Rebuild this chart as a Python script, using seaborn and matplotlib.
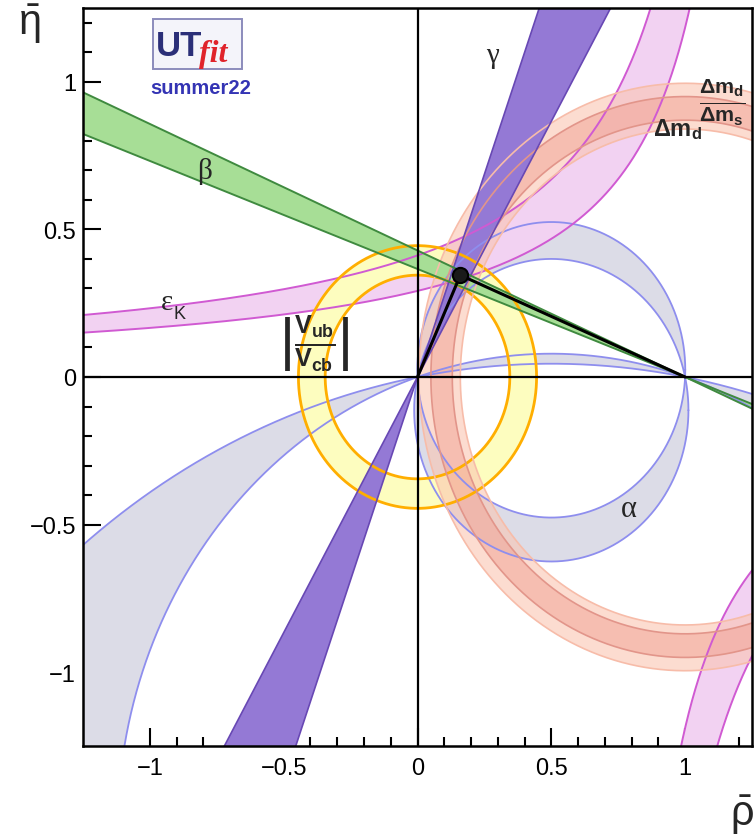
import numpy as np
import matplotlib
matplotlib.use("Agg")
import matplotlib.pyplot as plt
import seaborn as sns
import pandas as pd
from matplotlib.path import Path
from matplotlib.patches import PathPatch, Rectangle
from matplotlib.ticker import MultipleLocator

# ---- fit result and constraint bands (rho-bar, eta-bar plane) ----
apex = [0.16, 0.345]                      # best-fit (rho, eta)
beta_deg = [20.1, 23.2]                   # beta band, lines through (1, 0)
gamma_deg = [60.0, 70.0]                  # gamma band, lines through (0, 0)
vub_radius = [0.345, 0.445]               # |Vub/Vcb| ring around (0, 0)
dmd_radius = [0.84, 0.995]                # Delta m_d ring around (1, 0)
dms_radius = [0.87, 0.95]                 # Delta m_d / Delta m_s ring around (1, 0)
alpha_tops_main = [0.400, 0.525]          # alpha arcs (height of upper arc)
alpha_tops_flat = [0.045, 0.079]          # second alpha solution
epsk_up_rho0 = [1.327, 1.299]             # eps_K hyperbola, upper branch
epsk_up_k = [0.387, 0.535]
epsk_lo_rho0 = [0.693, 0.717]             # eps_K hyperbola, lower branch
epsk_lo_k = [0.365, 0.504]

xticks = [-1, -0.5, 0, 0.5, 1]
xtick_labels = ["\u22121", "\u22120.5", "0", "0.5", "1"]
yticks = [-1, -0.5, 0, 0.5, 1]
ytick_labels = ["\u22121", "\u22120.5", "0", "0.5", "1"]

sns.set_theme(style="ticks")
plt.rcParams["font.family"] = ["Liberation Sans", "DejaVu Sans"]
plt.rcParams["mathtext.fontset"] = "custom"
plt.rcParams["mathtext.rm"] = "Liberation Sans"
plt.rcParams["mathtext.it"] = "Liberation Sans:italic"
plt.rcParams["mathtext.bf"] = "Liberation Sans:bold"

W, H = 754, 837
fig = plt.figure(figsize=(W / 100, H / 100), dpi=100)
ax = fig.add_axes([83 / W, (H - 747) / H, (752 - 83) / W, (747 - 9) / H])
ax.set_xlim(-1.25, 1.25)
ax.set_ylim(-1.25, 1.25)

L = 4.0


def base_circle(top):
    c = (top ** 2 - 0.25) / (2 * top)
    return c, top - c


def base_arcs(top, n=2000):
    c, r = base_circle(top)
    t1 = np.arctan2(-c, 0.5)
    up = np.linspace(t1, np.pi - t1, n)
    lo = np.linspace(np.pi - t1, 2 * np.pi + t1, n)
    return ((0.5 + r * np.cos(up), c + r * np.sin(up)),
            (0.5 + r * np.cos(lo), c + r * np.sin(lo)))


def annulus(cx, cy, r_in, r_out, n=900, **kw):
    t = np.linspace(0, 2 * np.pi, n)
    outer = np.c_[cx + r_out * np.cos(t), cy + r_out * np.sin(t)]
    inner = np.c_[cx + r_in * np.cos(t[::-1]), cy + r_in * np.sin(t[::-1])]
    codes = ([Path.MOVETO] + [Path.LINETO] * (n - 1)) * 2
    patch = PathPatch(Path(np.vstack([outer, inner]), codes), **kw)
    ax.add_patch(patch)


def circle_xy(cx, cy, r, n=1500):
    t = np.linspace(0, 2 * np.pi, n)
    return cx + r * np.cos(t), cy + r * np.sin(t)


# ---- alpha (grey-blue) ----
a_fill, a_edge = "#DCDCE7", "#8E8EEE"
for t_in, t_out in (alpha_tops_main, alpha_tops_flat):
    upA, loA = base_arcs(t_out)
    upB, loB = base_arcs(t_in)
    ax.fill(np.r_[upA[0], upB[0][::-1]], np.r_[upA[1], upB[1][::-1]],
            color=a_fill, lw=0, zorder=1)
    ax.fill(np.r_[loA[0], loB[0][::-1]], np.r_[loA[1], loB[1][::-1]],
            color=a_fill, lw=0, zorder=1)
    for t in (t_in, t_out):
        c, r = base_circle(t)
        x, y = circle_xy(0.5, c, r, 6000)
        ax.plot(x, y, color=a_edge, lw=1.3, zorder=4)

# ---- eps_K (pink) ----
e_fill, e_edge = "#F2D2F2", "#D05AD2"
def hyper(rho0, k, eta0, eta1, n=1500):
    eta = np.linspace(eta0, eta1, n)
    return rho0 - k / eta, eta

e1 = hyper(epsk_up_rho0[0], epsk_up_k[0], epsk_up_k[0] / (epsk_up_rho0[0] + 1.4), 2.5)
e2 = hyper(epsk_up_rho0[1], epsk_up_k[1], epsk_up_k[1] / (epsk_up_rho0[1] + 1.4), 2.5)
ax.fill(np.r_[e2[0], e1[0][::-1]], np.r_[e2[1], e1[1][::-1]], color=e_fill, lw=0, zorder=1.2)
l1 = hyper(epsk_lo_rho0[0], epsk_lo_k[0], -2.5, -epsk_lo_k[0] / (1.4 - epsk_lo_rho0[0]))
l2 = hyper(epsk_lo_rho0[1], epsk_lo_k[1], -2.5, -epsk_lo_k[1] / (1.4 - epsk_lo_rho0[1]))
ax.fill(np.r_[l1[0], l2[0][::-1]], np.r_[l1[1], l2[1][::-1]], color=e_fill, lw=0, zorder=1.2)
for cur in (e1, e2, l1, l2):
    ax.plot(cur[0], cur[1], color=e_edge, lw=1.4, zorder=4)

# ---- |Vub/Vcb| (yellow ring) ----
annulus(0, 0, vub_radius[0], vub_radius[1], fc="#FDFDBF", ec="none", zorder=1.5)
for r in vub_radius:
    x, y = circle_xy(0, 0, r)
    ax.plot(x, y, color="#FFAE00", lw=2.0, zorder=4)

# ---- Delta m_d and Delta m_d / Delta m_s (salmon rings) ----
annulus(1, 0, dmd_radius[0], dmd_radius[1], fc="#FAC6B2", ec="none", alpha=0.6, zorder=2)
annulus(1, 0, dms_radius[0], dms_radius[1], fc="#F2A293", ec="none", alpha=0.5, zorder=2.1)
for r in dmd_radius:
    x, y = circle_xy(1, 0, r)
    ax.plot(x, y, color="#F7BCA9", lw=1.2, zorder=4)
for r in dms_radius:
    x, y = circle_xy(1, 0, r)
    ax.plot(x, y, color="#E2958A", lw=1.2, zorder=4)

# ---- gamma (purple wedge) ----
g = np.radians(gamma_deg)
g_fill, g_edge = "#9479D5", "#6848B4"
for s in (1, -1):
    ax.fill([0, s * L * np.cos(g[0]), s * L * np.cos(g[1])],
            [0, s * L * np.sin(g[0]), s * L * np.sin(g[1])],
            color=g_fill, lw=0, zorder=2.5)
for a in g:
    ax.plot([-L * np.cos(a), L * np.cos(a)], [-L * np.sin(a), L * np.sin(a)],
            color=g_edge, lw=1.2, zorder=4.5)

# ---- beta (green wedge through (1,0)) ----
b = np.radians(beta_deg)
b_fill, b_edge = "#A7DE96", "#3F8A3F"
for s in (1, -1):
    ax.fill([1, 1 - s * L * np.cos(b[0]), 1 - s * L * np.cos(b[1])],
            [0, s * L * np.sin(b[0]), s * L * np.sin(b[1])],
            color=b_fill, lw=0, zorder=3)
for a in b:
    ax.plot([1 - L * np.cos(a), 1 + L * np.cos(a)], [L * np.sin(a), -L * np.sin(a)],
            color=b_edge, lw=1.4, zorder=4.5)

# ---- axes through the origin ----
ax.axhline(0, color="black", lw=1.6, zorder=5)
ax.axvline(0, color="black", lw=1.6, zorder=5)

# ---- unitarity triangle ----
tri = pd.DataFrame({"rho": [0, apex[0], 1], "eta": [0, apex[1], 0]})
sns.lineplot(data=tri, x="rho", y="eta", sort=False, estimator=None,
             color="black", lw=2.2, zorder=6, ax=ax)
sns.scatterplot(x=[apex[0]], y=[apex[1]], s=120, color="#1a1a1a",
                edgecolor="black", linewidth=1.5, zorder=7, ax=ax)

# ---- band labels ----
serif = ["Liberation Serif", "DejaVu Serif"]
ax.text(-0.795, 0.70, "\u03b2", fontsize=21, family=serif, ha="center", va="center", zorder=8)
ax.text(0.28, 1.09, "\u03b3", fontsize=21, family=serif, ha="center", va="center", zorder=8)
ax.text(0.79, -0.445, "\u03b1", fontsize=22, family=serif, ha="center", va="center", zorder=8)
ax.text(-0.935, 0.255, "\u03b5", fontsize=21, family=serif, ha="center", va="center", zorder=8)
ax.text(-0.89, 0.215, "K", fontsize=13, ha="center", va="center", zorder=8)
ax.text(-0.384, 0.115, r"$\left|\frac{\mathbf{V_{ub}}}{\mathbf{V_{cb}}}\right|$",
        fontsize=26, ha="center", va="center", zorder=8)
ax.text(1.14, 0.935, r"$\frac{\mathbf{\Delta m_d}}{\mathbf{\Delta m_s}}$",
        fontsize=22, ha="center", va="center", zorder=8)
ax.text(0.97, 0.84, r"$\mathbf{\Delta m_d}$", fontsize=17, ha="center", va="center", zorder=8)

# ---- ticks and frame ----
ax.set_xticks(xticks)
ax.set_xticklabels(xtick_labels)
ax.set_yticks(yticks)
ax.set_yticklabels(ytick_labels)
ax.xaxis.set_minor_locator(MultipleLocator(0.1))
ax.yaxis.set_minor_locator(MultipleLocator(0.1))
ax.tick_params(which="both", direction="in", top=False, right=False, colors="black",
               labelsize=17, width=1.5)
ax.tick_params(axis="x", which="major", length=13, pad=8)
ax.tick_params(axis="y", which="major", length=13, pad=5)
ax.tick_params(which="minor", length=6.5)
for sp in ax.spines.values():
    sp.set_visible(True)
    sp.set_color("black")
    sp.set_linewidth(1.8)
    sp.set_zorder(9)
ax.set_xlabel("")
ax.set_ylabel("")
ax.set_facecolor("white")

fig.text(29 / W, 1 - 24 / H, r"$\bar{\mathrm{\eta}}$", fontsize=30, ha="center", va="center")
fig.text(742 / W, 1 - 815 / H, r"$\bar{\mathrm{\rho}}$", fontsize=30, ha="center", va="center")

# ---- collaboration logo ----
fig.add_artist(Rectangle((153 / W, 1 - 70 / H), 89 / W, 50 / H, transform=fig.transFigure,
                         fc="#F4F4FA", ec="#8C8CBC", lw=1.4, zorder=10))
fig.text(156 / W, 1 - 56 / H, "UT", fontsize=25, weight="bold", color="#2B2F78",
         va="baseline", zorder=11)
fig.text(199 / W, 1 - 62 / H, "fit", fontsize=23, weight="bold", style="italic",
         family=serif, color="#E0232B", va="baseline", zorder=11)
fig.text(201 / W, 1 - 88 / H, "summer22", fontsize=14.5, weight="bold", color="#3434B4",
         ha="center", va="center")

fig.savefig("out.png", dpi=100, facecolor="white")
